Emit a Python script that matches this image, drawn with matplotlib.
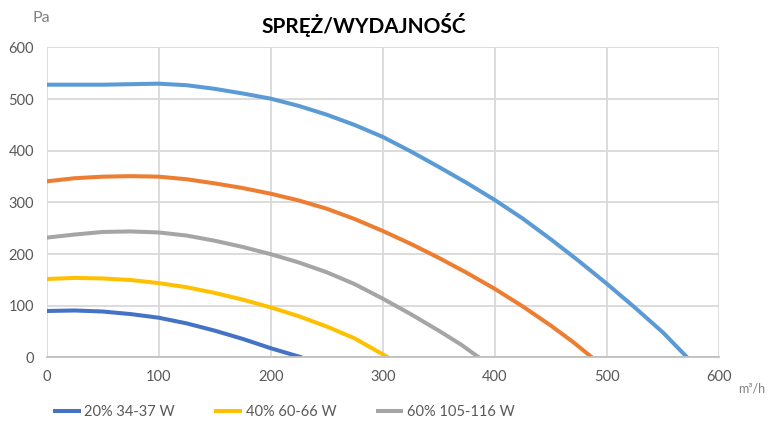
import matplotlib.pyplot as plt

plt.rcParams['font.family'] = ['Lato', 'DejaVu Sans']

# Odczytane punkty krzywych (m3/h, Pa)
x20 = [0, 25, 50, 75, 100, 125, 150, 175, 200, 228]
y20 = [90, 91, 89, 84, 77, 66, 52, 36, 18, 0]

x40 = [0, 25, 50, 75, 100, 125, 150, 175, 200, 225, 250, 275, 305]
y40 = [152, 154, 153, 150, 144, 136, 125, 112, 97, 80, 60, 37, 0]

x60 = [0, 25, 50, 75, 100, 125, 150, 175, 200, 225, 250, 275, 300, 325, 350, 370, 386]
y60 = [232, 238, 243, 244, 242, 236, 226, 214, 200, 184, 165, 142, 114, 84, 52, 25, 0]

x80 = [0, 25, 50, 75, 100, 125, 150, 175, 200, 225, 250, 275, 300, 325, 350, 375, 400, 425, 450, 470, 487]
y80 = [341, 347, 350, 351, 350, 345, 337, 328, 317, 304, 288, 268, 245, 220, 193, 164, 133, 99, 62, 30, 0]

x100 = [0, 50, 100, 125, 150, 175, 200, 225, 250, 275, 300, 325, 350, 375, 400, 425, 450, 475, 500, 525, 550, 572]
y100 = [528, 528, 530, 527, 520, 511, 501, 487, 470, 450, 427, 399, 369, 338, 305, 269, 229, 187, 143, 97, 49, 0]

labels = ['20% 34-37 W', '40% 60-66 W', '60% 105-116 W']
xticks = [0, 100, 200, 300, 400, 500, 600]
yticks = [0, 100, 200, 300, 400, 500, 600]

fig = plt.figure(figsize=(7.71, 4.26), dpi=100)
ax = fig.add_axes([0.0606, 0.1608, 0.8715, 0.7277])

lw = 2.9
kw = dict(lw=lw, solid_capstyle='butt', solid_joinstyle='round')
ax.plot(x100, y100, color='#5B9BD5', **kw)
ax.plot(x80, y80, color='#ED7D31', **kw)
h3, = ax.plot(x60, y60, color='#A5A5A5', **kw)
h2, = ax.plot(x40, y40, color='#FFC000', **kw)
h1, = ax.plot(x20, y20, color='#4472C4', **kw)

ax.set_xlim(0, 600)
ax.set_ylim(0, 600)
ax.set_xticks(xticks)
ax.set_yticks(yticks)
ax.grid(True, color='#D9D9D9', lw=1.3)
ax.set_axisbelow(True)
for s in ['top', 'right', 'left']:
    ax.spines[s].set_visible(False)
ax.spines['bottom'].set_color('#BFBFBF')
ax.spines['bottom'].set_linewidth(1.3)
ax.tick_params(length=0, labelsize=10.5, labelcolor='#595959', pad=9)

fig.text(0.472, 0.941, 'SPRĘŻ/WYDAJNOŚĆ', ha='center', va='center',
         fontsize=15, fontweight='bold', color='black')
fig.text(0.053, 0.958, 'Pa', ha='center', va='center', fontsize=11.5, color='#808080')
fig.text(0.957, 0.089, 'm³/h', ha='left', va='center', fontsize=9, color='#808080')

fig.legend(handles=[h1, h2, h3], labels=labels, loc='center left',
           bbox_to_anchor=(53 / 771, 0.032), borderaxespad=0, borderpad=0,
           ncol=3, frameon=False, fontsize=10.5, handlelength=1.9, columnspacing=2.7,
           handletextpad=0.25, labelcolor='#595959')

fig.savefig('out.png', dpi=100)
